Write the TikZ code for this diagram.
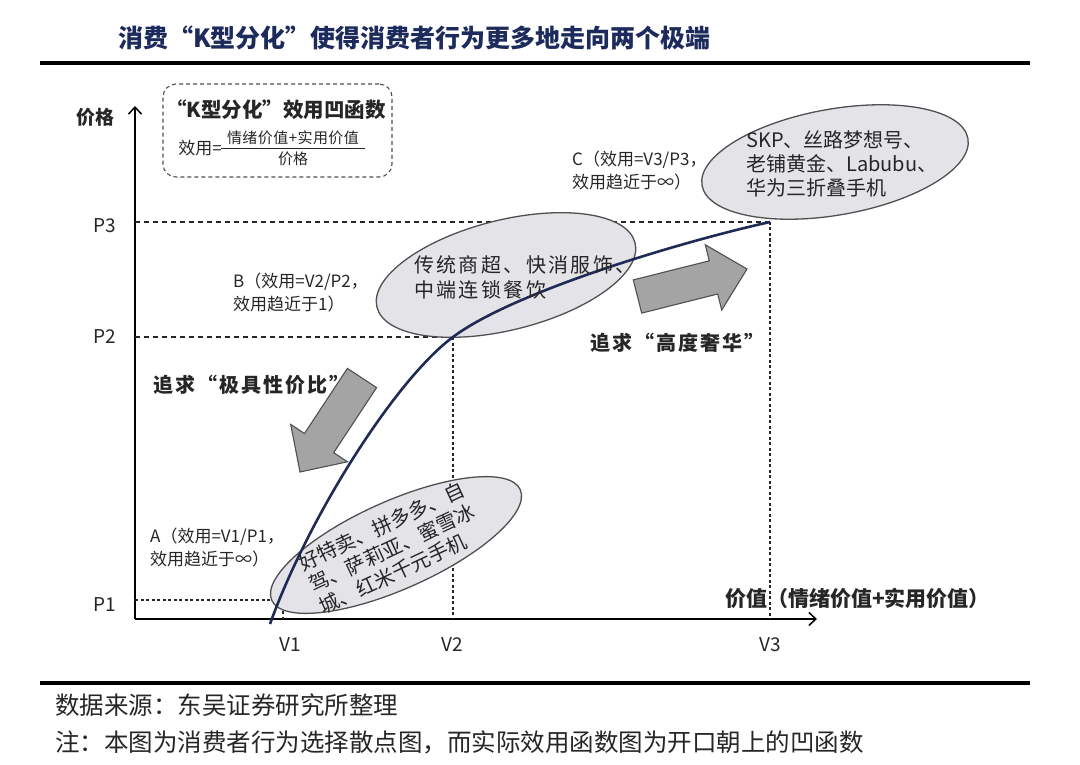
\documentclass[tikz,border=0pt]{standalone}
\usepackage{fontspec}
\setmainfont{Noto Sans CJK SC}
\usetikzlibrary{arrows.meta,shapes.geometric}
\definecolor{navy}{HTML}{1F2A55}
\definecolor{titleblue}{HTML}{1C2B5C}
\definecolor{ellfill}{HTML}{E4E4E8}
\definecolor{ellline}{HTML}{505050}
\definecolor{txt}{HTML}{262626}
\definecolor{arrfill}{HTML}{A4A4A4}
\begin{document}
\begin{tikzpicture}[x=1pt,y=-1pt,
  lbl/.style={font=\fontsize{17}{23}\selectfont, text=txt, align=left, anchor=west, inner sep=0pt},
  ticklbl/.style={font=\fontsize{19}{22}\selectfont, text=txt, inner sep=0pt},
  bigbold/.style={font=\bfseries\fontsize{20}{24}\selectfont, text=txt, inner sep=0pt},
  spacedbold/.style={font=\bfseries\fontsize{20}{24}\selectfont\addfontfeatures{LetterSpace=10}, text=txt, inner sep=0pt},
  elltext/.style={font=\fontsize{20}{24}\selectfont, text=txt, align=left, inner sep=0pt},
  ell/.style={ellipse, draw=ellline, fill=ellfill, line width=1.3pt, inner sep=0pt},
  guide/.style={draw=txt, line width=1.1pt, dash pattern=on 5pt off 4pt},
  fineguide/.style={draw=txt, line width=1.1pt, dash pattern=on 3pt off 2.5pt},
  axisline/.style={draw=black, line width=1.5pt, -{Straight Barb[length=7pt,width=13pt]}},
  blockarrow/.style={fill=arrfill, draw=ellline, line width=1.1pt, line join=miter},
  rule/.style={draw=black, line width=3.5pt}
]
\useasboundingbox (0,0) rectangle (1080,765);

% title and rules
\node[anchor=west, inner sep=0pt, text=titleblue, font=\bfseries\fontsize{25}{30}\selectfont] (title) at (118,38) {消费“K型分化”使得消费者行为更多地走向两个极端};
\coordinate (r1a) at (40,63); \coordinate (r1b) at (1030,63);
\draw[rule] (r1a) -- (r1b);
\coordinate (r2a) at (40,683); \coordinate (r2b) at (1030,683);
\draw[rule] (r2a) -- (r2b);
\node[anchor=west, inner sep=0pt, text=txt, font=\fontsize{24.5}{28}\selectfont] (src) at (55,705) {数据来源：东吴证券研究所整理};
\node[anchor=west, inner sep=0pt, text=txt, font=\fontsize{24.5}{28}\selectfont] (note) at (55,742) {注：本图为消费者行为选择散点图，而实际效用函数图为开口朝上的凹函数};

% formula box
\node[draw=ellline, line width=1.1pt, dash pattern=on 4pt off 3pt, rounded corners=13pt, minimum width=229pt, minimum height=93pt, inner sep=0pt] (kbox) at (277.5,130.5) {};
\node[bigbold, font=\bfseries\fontsize{20.5}{24}\selectfont] (ktitle) at (276,110) {“K型分化”效用凹函数};
\node[anchor=east, inner sep=0pt, text=txt, font=\fontsize{17}{20}\selectfont] (xiao) at (222,148) {效用=};
\node[inner sep=0pt, text=txt, font=\fontsize{15}{18}\selectfont\addfontfeatures{LetterSpace=3}] (num) at (293,138) {情绪价值+实用价值};
\node[inner sep=0pt, text=txt, font=\fontsize{15}{18}\selectfont] (den) at (293,159) {价格};
\coordinate (fb1) at (221,148.5); \coordinate (fb2) at (365,148.5);
\draw[txt, line width=1.2pt] (fb1) -- (fb2);

% axes
\coordinate (O) at (135,619);
\coordinate (ytop) at (135,106);
\coordinate (xend) at (817,619);
\draw[axisline] (O) -- (ytop);
\draw[axisline] (O) -- (xend);
\node[bigbold, font=\bfseries\fontsize{19}{22}\selectfont] (ylab) at (95,117) {价格};
\node[bigbold, anchor=west, font=\bfseries\fontsize{21}{24}\selectfont] (xlab) at (725,598) {价值（情绪价值+实用价值）};

% key points
\coordinate (A) at (283,600);
\coordinate (B) at (453,337);
\coordinate (C) at (770,222);
\coordinate (yP3) at (135,222);
\coordinate (yP2) at (135,337);
\coordinate (yP1) at (135,600);
\coordinate (xV3) at (770,619);
\coordinate (xV2) at (453,619);
\coordinate (xV1) at (283,619);
\draw[guide] (yP3) -- (C);
\draw[fineguide] (C) -- (xV3);
\draw[guide] (yP2) -- (B);
\draw[fineguide] (B) -- (xV2);
\draw[fineguide] (yP1) -- (A);
\draw[fineguide] (A) -- (xV1);

\node[ticklbl] (P3) at (105,226) {P3};
\node[ticklbl] (P2) at (105,337) {P2};
\node[ticklbl] (P1) at (105,605) {P1};
\node[ticklbl] (V1) at (290,645) {V1};
\node[ticklbl] (V2) at (452,645) {V2};
\node[ticklbl] (V3) at (770,645) {V3};

% ellipses
\node[ell, minimum width=266pt, minimum height=110pt, rotate=14] (eB) at (506,275) {};
\node[ell, minimum width=270pt, minimum height=106pt, rotate=10] (eC) at (835,162) {};
\node[ell, minimum width=272pt, minimum height=88pt, rotate=24] (eA) at (396,545) {};

% block arrows
\draw[blockarrow] (376.6,387.6) -- (333.7,452.7) -- (347.5,461.8) -- (300,472) -- (290.7,424.4) -- (304.5,433.5) -- (347.4,368.4) -- cycle;
\draw[blockarrow] (633.3,279.9) -- (709.3,260.8) -- (705.3,244.8) -- (747,269) -- (721.7,310.0) -- (717.7,294.0) -- (641.7,313.1) -- cycle;

% curve
\coordinate (start) at (270,624);
\draw[navy, line width=2.6pt] (start) .. controls (308,518) and (395,380) .. (B) .. controls (513,292) and (680,242) .. (C);

% ellipse texts
\node[elltext, anchor=west] (tC) at (746,164) {SKP、丝路梦想号、\\老铺黄金、Labubu、\\华为三折叠手机};
\node[elltext, anchor=west, font=\fontsize{20}{25}\selectfont\addfontfeatures{LetterSpace=12}] (tB) at (414,277) {传统商超、快消服饰、\\中端连锁餐饮};
\node[elltext, rotate=25] (tA) at (392,548) {好特卖、拼多多、自\\驾、萨莉亚、蜜雪冰\\城、红米千元手机};

% labels
\node[lbl] (lA) at (150,548) {A（效用=V1/P1，\\效用趋近于∞）};
\node[lbl] (lB) at (233,293) {B（效用=V2/P2，\\效用趋近于1）};
\node[lbl] (lC) at (572,171) {C（效用=V3/P3，\\效用趋近于∞）};
\node[spacedbold, anchor=west] (low) at (153,385) {追求“极具性价比”};
\node[spacedbold, anchor=west] (high) at (590,343) {追求“高度奢华”};
\end{tikzpicture}
\end{document}
